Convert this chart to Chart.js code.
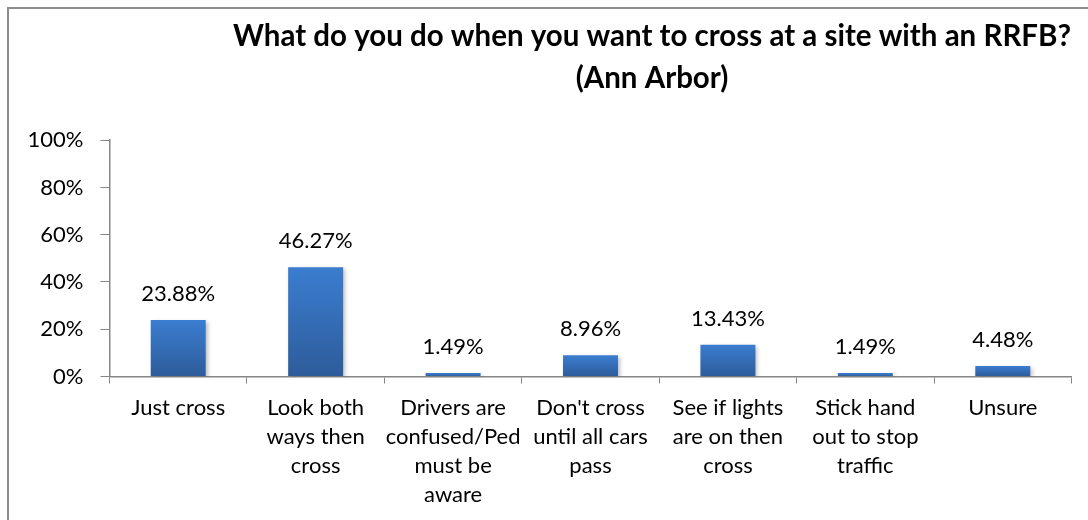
<!DOCTYPE html>
<html>
<head>
<meta charset="utf-8">
<script src="https://cdn.jsdelivr.net/npm/chart.js@4.4.1/dist/chart.umd.min.js"></script>
<style>
  html, body { margin: 0; padding: 0; background: #fff; overflow: hidden; }
  #frame { position: absolute; left: 7px; top: 7px; width: 1400px; height: 600px; border: 2px solid #8c8c8c; }
  #wrap { position: absolute; left: 9px; top: 9px; width: 1286px; height: 520px; }
</style>
</head>
<body>
<div id="frame"></div>
<div id="wrap"><canvas id="rrfbChart"></canvas></div>
<script>
const categories = [
    'Just cross',
    ['Look both', 'ways then', 'cross'],
    ['Drivers are', 'confused/Ped', 'must be', 'aware'],
    ["Don't cross", 'until all cars', 'pass'],
    ['See if lights', 'are on then', 'cross'],
    ['Stick hand', 'out to stop', 'traffic'],
    'Unsure'
];
const shares = [23.88, 46.27, 1.49, 8.96, 13.43, 1.49, 4.48];
const yTicks = [0, 20, 40, 60, 80, 100];
const titleLines = ['What do you do when you want to cross at a site with an RRFB?', '(Ann Arbor)'];

const FONT = 'Lato, "Open Sans", sans-serif';

// value labels above bars + soft bar shadow
const barLabels = {
    id: 'barLabels',
    beforeDatasetsDraw(chart) {
        const c = chart.ctx;
        c.save();
        c.shadowColor = 'rgba(0,0,0,0.25)';
        c.shadowBlur = 4;
        c.shadowOffsetX = 2;
        c.shadowOffsetY = 2;
    },
    afterDatasetsDraw(chart) {
        const c = chart.ctx;
        c.restore();
        const meta = chart.getDatasetMeta(0);
        c.save();
        c.font = '22px ' + FONT;
        c.fillStyle = '#000';
        c.textAlign = 'center';
        c.textBaseline = 'middle';
        meta.data.forEach(function(bar, i) {
            c.fillText(shares[i].toFixed(2) + '%', bar.x, bar.y - 26);
        });
        c.restore();
    }
};

const ctx = document.getElementById('rrfbChart').getContext('2d');
new Chart(ctx, {
    type: 'bar',
    data: {
        labels: categories,
        datasets: [{
            data: shares,
            backgroundColor: function(context) {
                const chart = context.chart;
                const y = chart.scales.y;
                if (!y || context.raw === undefined) return '#3470b8';
                const top = y.getPixelForValue(context.raw);
                const bottom = y.getPixelForValue(0);
                if (!isFinite(top) || !isFinite(bottom) || bottom - top < 1) return '#3470b8';
                const g = chart.ctx.createLinearGradient(0, top, 0, bottom);
                g.addColorStop(0, '#3b7dd0');
                g.addColorStop(1, '#2d5c9a');
                return g;
            },
            borderWidth: 0,
            barPercentage: 0.4,
            categoryPercentage: 1
        }]
    },
    options: {
        responsive: true,
        maintainAspectRatio: false,
        animation: false,
        layout: { padding: 0 },
        scales: {
            x: {
                grid: { display: true, drawOnChartArea: false, tickLength: 7, color: '#868686', offset: true },
                border: { color: '#868686', width: 1.5 },
                ticks: {
                    color: '#000',
                    padding: 10,
                    maxRotation: 0,
                    autoSkip: false,
                    font: { family: FONT, size: 22, lineHeight: 1.32 }
                },
                afterFit: function(scale) { scale.height = 152.5; }
            },
            y: {
                min: 0,
                max: 100,
                afterBuildTicks: function(scale) {
                    scale.ticks = yTicks.map(function(v) { return { value: v }; });
                },
                grid: { display: true, drawOnChartArea: false, tickLength: 9, color: '#868686' },
                border: { color: '#868686', width: 1.5 },
                ticks: {
                    color: '#000',
                    padding: 17,
                    font: { family: FONT, size: 22 },
                    callback: function(value) { return value + '%'; }
                },
                afterFit: function(scale) { scale.width = 100.5; }
            },
            spacer: {
                type: 'linear',
                position: 'right',
                display: true,
                grid: { display: false },
                border: { display: false },
                ticks: { display: false },
                afterFit: function(scale) { scale.width = 223.5; }
            }
        },
        plugins: {
            legend: { display: false },
            tooltip: { enabled: false },
            title: {
                display: true,
                text: titleLines,
                color: '#000',
                font: { family: FONT, size: 29.5, weight: 'bold', lineHeight: 1.41 },
                padding: { top: 7, bottom: 41 }
            }
        }
    },
    plugins: [barLabels]
});
</script>
</body>
</html>
